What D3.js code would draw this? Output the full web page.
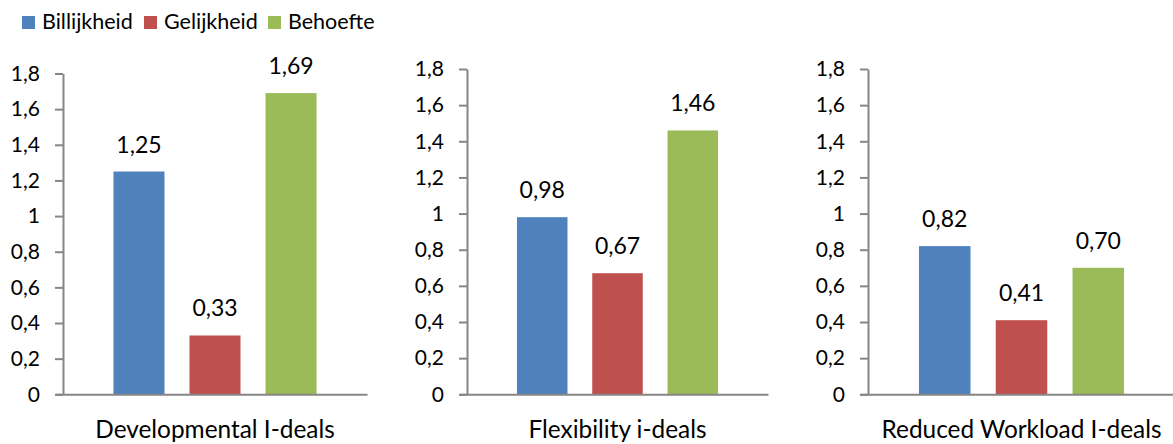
<!DOCTYPE html>
<html>
<head>
<meta charset="utf-8">
<script src="https://cdn.jsdelivr.net/npm/d3@7"></script>
<style>
  html, body { margin: 0; padding: 0; background: #fff; }
  svg text { font-family: Lato, "Open Sans", sans-serif; fill: #000; }
</style>
</head>
<body>
<svg id="chart" width="1173" height="444"></svg>
<script>
// Series and categories
const seriesNames = ["Billijkheid", "Gelijkheid", "Behoefte"];
const seriesColors = ["#4F81BD", "#C0504D", "#9BBB59"];
const panelTitles = ["Developmental I-deals", "Flexibility i-deals", "Reduced Workload I-deals"];
const billijkheid = [1.25, 0.98, 0.82];
const gelijkheid = [0.33, 0.67, 0.41];
const behoefte = [1.69, 1.46, 0.70];
const yTicks = [0, 0.2, 0.4, 0.6, 0.8, 1.0, 1.2, 1.4, 1.6, 1.8];

// Layout of the three small charts
const panels = [
  { left: 63,  right: 367,  top: 73.5, bottom: 394.3 },
  { left: 467, right: 768,  top: 69,   bottom: 394.3 },
  { left: 868, right: 1175, top: 69,   bottom: 394.3 }
];

const svg = d3.select("#chart");
const fmt = v => (v === 0 ? "0" : d3.format(".1f")(v).replace(".", ",").replace(/,0$/, ""));
const fmtVal = v => d3.format(".2f")(v).replace(".", ",");
const axisColor = "#868686";

panels.forEach((p, i) => {
  const g = svg.append("g");
  const values = [billijkheid[i], gelijkheid[i], behoefte[i]];

  const x = d3.scaleBand()
    .domain(seriesNames)
    .range([p.left, p.right])
    .paddingInner(0.329)
    .paddingOuter(0.664);

  const y = d3.scaleLinear().domain([0, 1.8]).range([p.bottom, p.top]);

  // Bars
  g.selectAll("rect.bar")
    .data(seriesNames)
    .enter().append("rect")
    .attr("class", "bar")
    .attr("x", d => x(d))
    .attr("y", (d, k) => y(values[k]))
    .attr("width", x.bandwidth())
    .attr("height", (d, k) => y(0) - y(values[k]))
    .attr("fill", (d, k) => seriesColors[k]);

  // Value labels
  g.selectAll("text.val")
    .data(seriesNames)
    .enter().append("text")
    .attr("class", "val")
    .attr("x", d => x(d) + x.bandwidth() / 2)
    .attr("y", (d, k) => y(values[k]) - 19)
    .attr("text-anchor", "middle")
    .style("font-size", "23px")
    .text((d, k) => fmtVal(values[k]));

  // Y axis
  const yAxis = d3.axisLeft(y)
    .tickValues(yTicks)
    .tickFormat(fmt)
    .tickSize(8)
    .tickSizeOuter(0)
    .tickPadding(15);
  const ya = g.append("g")
    .attr("transform", `translate(${p.left},0)`)
    .call(yAxis);
  ya.select(".domain").attr("stroke", axisColor).attr("stroke-width", 2);
  ya.selectAll(".tick line").attr("stroke", axisColor).attr("stroke-width", 2);
  ya.selectAll(".tick text")
    .attr("fill", "#000")
    .style("font-size", "21px")
    .style("font-family", "Lato, sans-serif");

  // X axis baseline
  const xa = g.append("g")
    .attr("transform", `translate(0,${p.bottom})`)
    .call(d3.axisBottom(d3.scaleLinear().range([p.left - 8, p.right])).ticks(0).tickSizeOuter(0));
  xa.select(".domain").attr("stroke", axisColor).attr("stroke-width", 2);

  // Category title
  g.append("text")
    .attr("x", (x(seriesNames[0]) + x(seriesNames[2]) + x.bandwidth()) / 2)
    .attr("y", 437.5)
    .attr("text-anchor", "middle")
    .style("font-size", "24.4px")
    .text(panelTitles[i]);
});

// Legend
const legendX = [22, 144, 268];
const legend = svg.append("g");
seriesNames.forEach((name, k) => {
  legend.append("rect")
    .attr("x", legendX[k])
    .attr("y", 16)
    .attr("width", 13)
    .attr("height", 13)
    .attr("fill", seriesColors[k]);
  legend.append("text")
    .attr("x", legendX[k] + 20)
    .attr("y", 29)
    .style("font-size", "21.5px")
    .text(name);
});
</script>
</body>
</html>
